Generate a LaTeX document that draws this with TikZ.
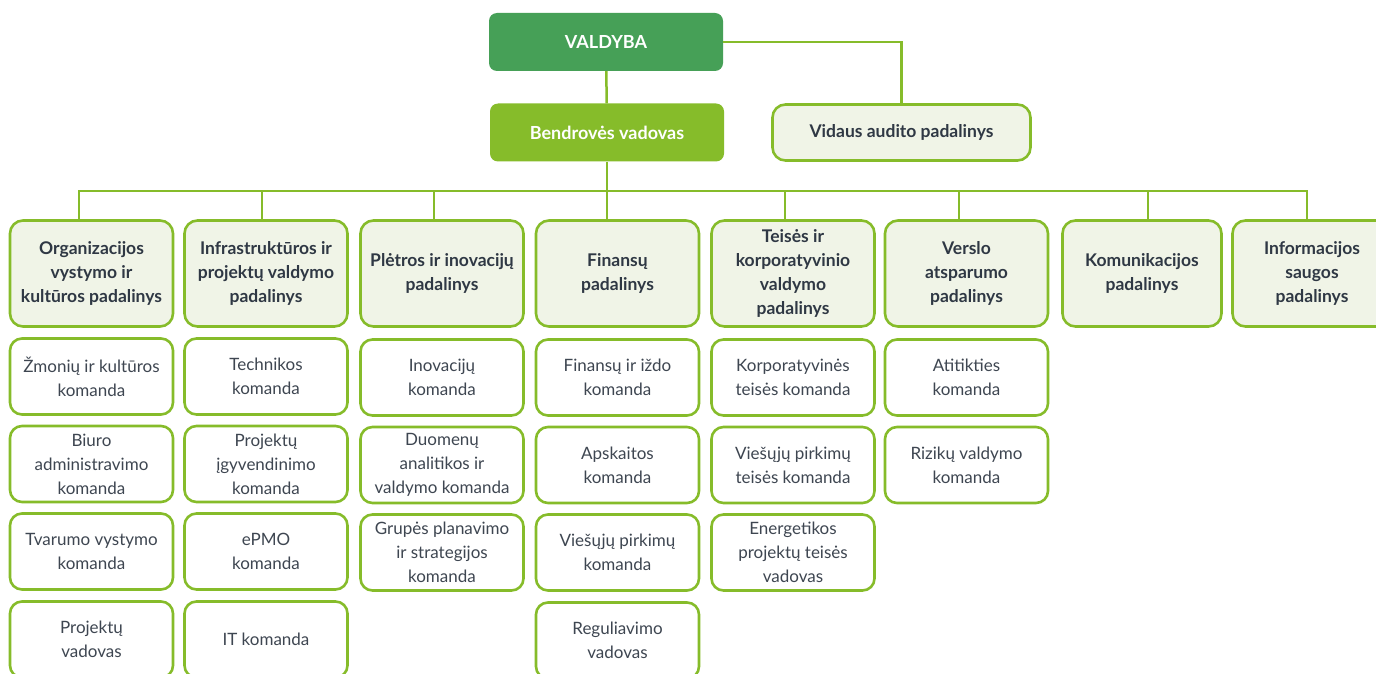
\documentclass[tikz,border=0pt]{standalone}
\usepackage{fontspec}
\setmainfont{Lato}
\usetikzlibrary{positioning}

\definecolor{vdark}{HTML}{46A057}
\definecolor{vgreen}{HTML}{86BC2A}
\definecolor{vpale}{HTML}{F0F4E7}
\definecolor{vtext}{HTML}{2F3844}
\definecolor{vgrey}{HTML}{3E4651}

\begin{document}
\begin{tikzpicture}[x=1pt, y=-1pt,
	lead/.style={rectangle, rounded corners=8, minimum width=234,
	minimum height=58, text=white, font=\fontsize{18}{24}\selectfont\bfseries},
	unit/.style={draw=vgreen, line width=2.6, fill=vpale, rounded corners=13,
	minimum width=163, minimum height=106, inner sep=0,
	align=center, text=vtext, font=\fontsize{17.5}{24}\selectfont\bfseries},
	team/.style={draw=vgreen, line width=2.6, fill=white, rounded corners=12,
	minimum width=163, minimum height=76, inner sep=0,
	align=center, text=vgrey, font=\fontsize{17}{24}\selectfont},
	conn/.style={draw=vgreen, line width=2.5}]
\useasboundingbox[fill=white] (0,0) rectangle (1376,674);

% top of the chart
\node[lead, fill=vdark] (valdyba) at (606,42) {VALDYBA};
\node[lead, fill=vgreen] (vadovas) at (607,132.5) {Bendrovės vadovas};
\node[unit, minimum width=258, minimum height=56] (auditas) at (901.5,132.5) {Vidaus audito padalinys};
\coordinate (bus) at (607,191);

% padaliniai
\node[unit] (p1) at (91.5,273.5) {Organizacijos\\vystymo ir\\kultūros padalinys};
\node[unit] (p2) at (266,273.5) {Infrastruktūros ir\\projektų valdymo\\padalinys};
\node[unit] (p3) at (442,273.5) {Plėtros ir inovacijų\\padalinys};
\node[unit] (p4) at (617.5,273.5) {Finansų\\padalinys};
\node[unit] (p5) at (793,273.5) {Teisės ir\\korporatyvinio\\valdymo\\padalinys};
\node[unit] (p6) at (966.5,273.5) {Verslo\\atsparumo\\padalinys};
\node[unit, minimum width=159] (p7) at (1142,273.5) {Komunikacijos\\padalinys};
\node[unit, minimum width=159] (p8) at (1312,273.5) {Informacijos\\saugos\\padalinys};

% komandos
\node[team] (k11) at (91.5,376.5) {Žmonių ir kultūros\\komanda};
\node[team] (k12) at (91.5,464) {Biuro\\administravimo\\komanda};
\node[team] (k13) at (91.5,551.5) {Tvarumo vystymo\\komanda};
\node[team] (k14) at (91.5,639.5) {Projektų\\vadovas};
\node[team] (k21) at (266,376.5) {Technikos\\komanda};
\node[team] (k22) at (266,464) {Projektų\\įgyvendinimo\\komanda};
\node[team] (k23) at (266,551.5) {ePMO\\komanda};
\node[team] (k24) at (266,639.5) {IT komanda};
\node[team] (k31) at (442,377.5) {Inovacijų\\komanda};
\node[team] (k32) at (442,465) {Duomenų\\analitikos ir\\valdymo komanda};
\node[team] (k33) at (442,552.5) {Grupės planavimo\\ir strategijos\\komanda};
\node[team] (k41) at (617.5,377.5) {Finansų ir iždo\\komanda};
\node[team] (k42) at (617.5,465) {Apskaitos\\komanda};
\node[team] (k43) at (617.5,552.5) {Viešųjų pirkimų\\komanda};
\node[team] (k44) at (617.5,640.5) {Reguliavimo\\vadovas};
\node[team] (k51) at (793,377.5) {Korporatyvinės\\teisės komanda};
\node[team] (k52) at (793,465) {Viešųjų pirkimų\\teisės komanda};
\node[team] (k53) at (793,552.5) {Energetikos\\projektų teisės\\vadovas};
\node[team] (k61) at (966.5,377.5) {Atitikties\\komanda};
\node[team] (k62) at (966.5,465) {Rizikų valdymo\\komanda};

% jungtys
\draw[conn] (valdyba) to (vadovas);
\draw[conn] (valdyba.east) -| (auditas.north);
\draw[conn] (vadovas.south) to (bus);
\draw[conn] (bus) -| ([xshift=-12.5]p1.north);
\draw[conn] (bus) -| ([xshift=-4]p2.north);
\draw[conn] (bus) -| ([xshift=-8]p3.north);
\draw[conn] (bus) -| ([xshift=-10.5]p4.north);
\draw[conn] (bus) -| ([xshift=-8]p5.north);
\draw[conn] (bus) -| ([xshift=-7.5]p6.north);
\draw[conn] (bus) -| ([xshift=6]p7.north);
\draw[conn] (bus) -| ([xshift=-5]p8.north);
\end{tikzpicture}
\end{document}
